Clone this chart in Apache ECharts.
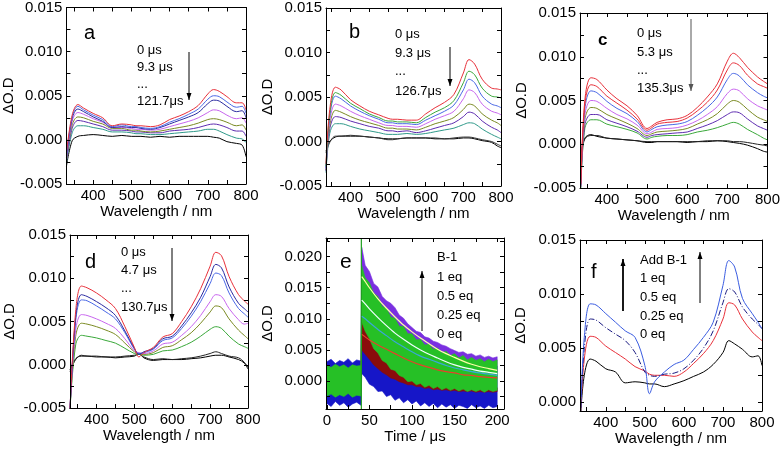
<!DOCTYPE html>
<html><head><meta charset="utf-8">
<script src="https://cdn.jsdelivr.net/npm/echarts@6/dist/echarts.min.js"></script>
<style>html,body{margin:0;padding:0;background:#fff}#c{width:783px;height:453px}</style>
</head><body><div id="c"></div>
<script>
// ---------- DATA (ΔO.D values in units of 0.001) ----------
const W_a = [330,345,360,375,400,425,450,475,500,512,525,550,575,600,625,650,675,700,715,730,750,775,790,800];
const W_b = [335,345,360,375,400,425,450,475,500,512,525,550,575,600,625,650,675,700,715,730,750,775,790,800];

// panel a : 0 µs, 9.3 µs ... 121.7 µs
const a_red    = [-1.5,2.8,4.0,3.6,3.0,2.5,1.6,1.8,1.7,1.6,1.6,1.5,1.7,2.3,2.7,3.2,3.9,5.2,5.7,5.5,4.9,4.2,4.2,3.4];
const a_blue   = [-1.8,2.6,3.8,3.4,2.8,2.3,1.5,1.7,1.5,1.5,1.4,1.3,1.5,2.0,2.4,2.9,3.5,4.6,5.0,4.9,4.3,3.7,3.8,3.0];
const a_navy   = [-2.0,2.4,3.5,3.2,2.6,2.1,1.4,1.5,1.4,1.4,1.3,1.2,1.4,1.8,2.2,2.6,3.1,4.1,4.5,4.4,3.8,3.2,3.3,2.5];
const a_violet = [-2.2,2.1,3.1,2.9,2.4,2.0,1.4,1.4,1.3,1.2,1.2,1.1,1.2,1.5,1.8,2.1,2.5,3.1,3.4,3.3,2.8,2.4,2.5,1.9];
const a_olive  = [-2.3,1.7,2.6,2.5,2.1,1.8,1.3,1.3,1.1,1.1,1.0,0.9,1.0,1.2,1.4,1.6,1.9,2.3,2.4,2.3,2.0,1.6,1.7,1.1];
const a_purple = [-2.4,1.3,2.2,2.1,1.8,1.5,1.1,1.1,1.0,0.9,0.9,0.8,0.8,1.0,1.1,1.2,1.4,1.7,1.8,1.7,1.4,1.0,1.0,0.4];
const a_teal   = [-2.6,0.8,1.6,1.6,1.4,1.2,0.9,0.9,0.8,0.7,0.7,0.6,0.6,0.7,0.8,0.9,1.0,1.2,1.2,1.0,0.6,0.2,0.1,-0.3];
const a_black  = [-3.0,-0.1,0.4,0.5,0.6,0.5,0.4,0.5,0.4,0.4,0.4,0.3,0.4,0.3,0.4,0.4,0.4,0.4,0.3,0.2,-0.2,-0.4,-0.6,-1.9];

// panel b : 0 µs, 9.3 µs ... 126.7 µs
const b_red    = [-2.5,3.6,6.1,5.8,4.7,4.0,3.4,3.0,2.6,2.5,2.5,2.4,2.4,3.1,3.8,4.4,5.3,7.7,9.2,8.7,7.0,6.0,5.9,5.8];
const b_green  = [-2.8,3.1,5.5,5.2,4.3,3.7,3.1,2.7,2.3,2.3,2.2,2.2,2.1,2.7,3.3,3.8,4.6,6.6,7.9,7.5,6.0,5.1,5.0,4.9];
const b_blue   = [-3.0,2.8,5.1,4.8,4.0,3.4,2.9,2.5,2.1,2.1,2.0,2.0,1.9,2.4,2.9,3.4,4.1,5.8,7.0,6.6,5.1,4.2,4.0,3.8];
const b_violet = [-3.1,2.3,4.2,4.0,3.4,2.9,2.5,2.1,1.8,1.8,1.7,1.7,1.6,2.0,2.5,2.9,3.4,4.8,5.8,5.5,4.2,3.4,3.2,3.0];
const b_olive  = [-3.2,1.8,3.5,3.3,2.8,2.4,2.1,1.8,1.5,1.5,1.4,1.4,1.3,1.6,2.0,2.3,2.7,3.6,4.2,4.0,3.1,2.4,2.1,1.8];
const b_purple = [-3.3,1.4,2.8,2.7,2.3,2.0,1.7,1.5,1.2,1.2,1.1,1.2,1.0,1.2,1.5,1.8,2.1,2.8,3.3,3.1,2.3,1.6,1.3,1.0];
const b_teal   = [-3.5,0.9,2.0,2.0,1.7,1.4,1.2,1.0,0.8,0.8,0.8,0.9,0.8,0.9,1.1,1.3,1.5,1.9,2.1,2.0,1.4,0.8,0.5,0.3];
const b_black  = [-1.3,-0.1,0.6,0.6,0.7,0.6,0.5,0.4,0.2,0.2,0.3,0.4,0.4,0.4,0.4,0.3,0.4,0.5,0.5,0.4,0.2,0.0,-0.3,-0.5];
const b_black2 = [-1.1,0.0,0.5,0.6,0.6,0.6,0.5,0.4,0.3,0.3,0.3,0.4,0.4,0.4,0.3,0.3,0.3,0.4,0.4,0.3,0.1,-0.1,-0.5,-0.7];

// panel c : 0 µs, 5.3 µs ... 135.3 µs
const c_red    = [-4.5,5.0,7.6,7.4,6.2,5.2,4.4,3.3,1.8,2.1,2.5,2.8,2.9,3.3,4.2,5.4,6.9,9.5,10.4,9.9,8.8,7.7,7.2,6.9];
const c_red2   = [-4.6,4.5,6.8,6.6,5.5,4.7,3.9,2.9,1.6,1.9,2.3,2.5,2.6,3.0,3.8,4.8,6.2,8.5,9.3,9.0,7.9,6.9,6.6,6.4];
const c_blue   = [-4.7,4.0,6.1,5.9,4.9,4.1,3.5,2.6,1.4,1.7,2.0,2.2,2.3,2.6,3.3,4.2,5.4,7.4,8.1,7.8,6.8,5.9,5.5,5.3];
const c_violet = [-4.8,3.3,5.0,4.9,4.1,3.4,2.9,2.2,1.2,1.4,1.7,1.8,1.9,2.2,2.7,3.4,4.3,5.8,6.3,6.1,5.2,4.4,4.1,3.9];
const c_olive  = [-4.8,2.8,4.2,4.1,3.4,2.9,2.4,1.8,1.0,1.2,1.4,1.5,1.6,1.8,2.3,2.8,3.5,4.6,5.0,4.8,4.0,3.1,2.8,2.6];
const c_purple = [-4.9,2.2,3.4,3.4,2.8,2.4,2.0,1.5,0.8,1.0,1.1,1.2,1.3,1.4,1.8,2.2,2.7,3.4,3.7,3.6,2.9,2.1,1.8,1.6];
const c_green  = [-5.2,1.8,2.8,2.8,2.3,2.0,1.7,1.3,0.6,0.8,0.9,1.0,1.0,1.1,1.4,1.6,1.9,2.3,2.5,2.3,1.7,1.1,0.7,0.5];
const c_black  = [-1.5,0.6,1.0,1.0,0.7,0.6,0.5,0.4,0.3,0.3,0.3,0.3,0.3,0.3,0.3,0.4,0.4,0.4,0.3,0.3,0.2,0.0,-0.1,-0.2];
const c_black2 = [-1.2,0.7,1.1,0.9,0.7,0.6,0.5,0.4,0.2,0.2,0.3,0.3,0.3,0.2,0.3,0.3,0.4,0.3,0.2,0.1,-0.1,-0.5,-0.8,-0.9];

// panel d : 0 µs, 4.7 µs ... 130.7 µs
const d_red    = [-5.2,6.2,9.1,8.9,8.3,7.5,6.5,4.4,2.0,0.9,1.4,2.0,3.2,3.6,5.0,6.7,8.8,11.4,13.0,12.6,10.2,8.1,7.4,7.0];
const d_navy   = [-5.2,5.5,8.1,7.9,7.3,6.6,5.7,3.9,1.9,1.2,1.5,1.9,3.0,3.3,4.5,6.0,7.8,10.2,11.6,11.2,9.0,7.1,6.5,6.1];
const d_blue   = [-5.2,5.1,7.5,7.4,6.8,6.1,5.3,3.7,1.8,1.3,1.4,1.8,2.8,3.1,4.2,5.6,7.3,9.4,10.6,10.3,8.3,6.5,5.9,5.5];
const d_violet = [-5.2,4.0,5.8,5.7,5.3,4.8,4.2,3.0,1.6,1.4,1.3,1.6,2.4,2.6,3.4,4.4,5.7,7.3,8.1,7.9,6.5,5.2,4.7,4.8];
const d_olive  = [-5.2,3.3,4.8,4.7,4.4,4.0,3.5,2.5,1.5,1.3,1.2,1.4,2.0,2.2,2.9,3.7,4.8,6.1,6.8,6.6,5.3,4.0,3.4,3.0];
const d_green  = [-5.2,2.3,3.4,3.3,3.1,2.8,2.5,1.9,1.3,1.2,1.1,1.2,1.6,1.7,2.1,2.6,3.3,4.1,4.4,4.2,3.3,2.4,2.1,1.9];
const d_black  = [-0.8,0.6,1.1,1.0,1.0,0.9,0.9,1.0,1.1,1.2,0.9,0.6,0.7,0.6,0.7,0.8,1.0,1.3,1.5,1.3,1.0,0.8,0.3,-0.3];
const d_black2 = [-0.6,0.7,1.0,1.0,0.9,0.9,0.8,0.9,1.0,1.3,0.8,0.5,0.6,0.6,0.6,0.7,0.8,1.0,1.1,1.1,0.9,0.6,0.2,-0.5];

// panel f : add B-1, 0 / 0.25 / 0.5 / 1 eq
const f_1eq    = [-1.5,6.0,9.1,9.0,8.2,7.4,6.6,6.0,3.4,0.8,1.9,2.8,3.5,3.9,4.9,6.0,7.4,10.8,13.1,12.5,9.6,8.2,7.4,6.8];
const f_05eq   = [-1.5,5.0,7.7,7.6,6.9,6.3,5.7,4.6,2.8,2.5,2.4,2.6,2.7,3.1,3.9,5.0,6.6,9.2,10.5,10.2,8.8,7.7,7.2,6.8];
const f_025eq  = [-1.5,4.0,6.1,6.0,5.2,4.6,4.0,3.3,2.9,2.6,2.5,2.5,2.4,2.8,3.6,4.5,5.7,7.7,9.2,9.0,7.7,6.5,6.0,5.7];
const f_0eq    = [-1.5,2.5,4.0,3.8,3.1,2.8,1.8,1.9,1.8,1.7,1.7,1.45,1.7,2.0,2.4,2.8,3.5,4.6,5.7,5.4,4.9,4.2,4.3,3.4];

// panel e : kinetic traces (noise envelopes) and fits
const T_e = [0,5,10,15,20,25,30,35,40,41,45,50,55,60,65,70,75,80,85,90,95,100,105,110,115,120,125,130,135,140,145,150,155,160,165,170,175,180,185,190,195,200];
const e_blueLo   = [-3.6,-4.1,-3.3,-3.9,-3.5,-4.2,-3.7,-3.4,-3.9, 1.2,0.6,-0.5,-0.9,-1.7,-1.6,-2.5,-2.2,-3.1,-2.7,-3.5,-3.0,-3.7,-3.2,-4.0,-3.5,-4.1,-3.6,-4.3,-3.7,-4.2,-3.8,-4.4,-3.9,-4.1,-4.4,-3.8,-4.3,-4.0,-4.4,-3.9,-4.3,-4.1];
const e_blueHi   = [3.1,3.5,2.8,3.3,3.0,3.6,2.9,3.4,3.2, 14.5,13.2,12.3,11.0,10.6,9.4,9.1,8.1,7.8,6.9,6.7,5.9,5.8,5.0,5.0,4.3,4.3,3.7,3.8,3.3,3.4,3.0,3.1,2.7,2.9,2.5,2.7,2.4,2.6,2.3,2.5,2.3,2.4];
const e_purpleLo = [-1.8,-2.0,-1.7,-1.9,-1.8,-1.9,-1.7,-1.8,-1.9, 10.0,9.5,9.0,8.4,7.8,7.2,6.7,6.2,5.7,5.3,4.9,4.5,4.2,3.9,3.6,3.3,3.1,2.9,2.7,2.5,2.4,2.2,2.1,2.0,1.9,1.8,1.7,1.7,1.6,1.6,1.5,1.5,1.5];
const e_purpleHi = [1.9,2.0,1.8,2.0,1.9,2.0,1.8,1.9,2.0, 21.5,18.6,17.6,15.7,15.1,13.6,12.9,12.5,11.8,10.6,10.1,9.2,8.6,8.0,7.8,7.1,6.9,6.4,6.2,5.8,5.6,5.2,4.9,4.6,4.7,4.3,4.4,4.0,4.2,3.8,4.0,3.7,3.9];
const e_redLo    = [-1.8,-1.9,-1.7,-1.8,-1.9,-1.7,-1.8,-1.9,-1.8, 5.0,4.3,3.5,2.6,2.0,1.4,1.0,0.5,0.3,-0.1,-0.3,-0.6,-0.6,-0.9,-0.9,-1.2,-1.1,-1.4,-1.3,-1.5,-1.4,-1.6,-1.5,-1.7,-1.6,-1.7,-1.6,-1.8,-1.7,-1.8,-1.7,-1.8,-1.7];
const e_redHi    = [1.8,1.9,1.7,1.8,1.9,1.7,1.8,1.9,1.8, 10.5,9.0,7.8,6.2,5.4,4.2,3.8,2.8,2.5,1.6,1.2,0.5,0.5,-0.1,0.1,-0.5,-0.2,-0.7,-0.4,-0.9,-0.6,-1.0,-0.7,-1.1,-0.8,-1.2,-0.9,-1.2,-1.0,-1.3,-1.0,-1.3,-1.1];
const e_greenLo  = [-2.4,-2.1,-2.6,-2.2,-2.5,-2.0,-2.6,-2.3,-2.4, 9.5,8.0,6.8,5.2,4.5,3.3,2.9,1.9,1.7,0.9,0.6,-0.1,0.0,-0.6,-0.4,-1.0,-0.7,-1.2,-0.9,-1.4,-1.1,-1.5,-1.2,-1.6,-1.3,-1.7,-1.4,-1.7,-1.4,-1.8,-1.4,-1.7,-1.5];
const e_greenHi  = [2.5,2.2,2.7,2.3,2.6,2.1,2.6,2.4,2.5, 18.5,16.6,15.8,14.1,13.6,12.0,11.7,10.3,10.1,8.8,8.8,7.6,7.6,6.6,6.7,5.8,5.9,5.1,5.3,4.5,4.8,4.1,4.4,3.7,4.1,3.4,3.8,3.3,3.6,3.1,3.5,3.1,3.4];
const e_spikeT   = [40.5,40.5];
const e_spikeV   = [-4.5,23];
const T_fit = [41,45,50,60,70,80,90,100,110,120,130,140,150,160,170,180,190,200];
const e_fit1eq   = [16.8,16.0,15.0,13.2,11.7,10.3,9.0,7.9,6.9,6.0,5.1,4.4,3.8,3.2,2.7,2.3,2.0,1.7];
const e_fit05eq  = [13.0,12.4,11.6,10.2,8.9,7.7,6.7,5.8,5.0,4.3,3.7,3.1,2.6,2.2,1.9,1.6,1.4,1.2];
const e_fit025eq = [10.4,10.0,9.4,8.3,7.3,6.3,5.5,4.7,4.0,3.5,3.0,2.5,2.1,1.8,1.5,1.3,1.1,0.9];
const e_fit0eq   = [7.5,7.1,6.6,5.8,5.1,4.4,3.7,3.1,2.6,2.2,1.8,1.5,1.3,1.0,0.9,0.7,0.6,0.5];

// ticks
const wlTicks  = [350,400,450,500,550,600,650,700,750,800];
const wlLabels = [400,500,600,700,800];
const tTicks   = [0,25,50,75,100,125,150,175,200];
const tLabels  = [0,50,100,150,200];
const odTicks  = [-5,-2.5,0,2.5,5,7.5,10,12.5,15];
const odLabels = [-5,0,5,10,15];
const eTicks   = [-2.5,0,2.5,5,7.5,10,12.5,15,17.5,20,22.5];
const eLabels  = [0,5,10,15,20];
const fTicks   = [0,2.5,5,7.5,10,12.5,15];
const fLabels  = [0,5,10,15];

// ---------- CHART ----------
const FONT = '"Liberation Sans", Arial, Helvetica, sans-serif';
const C = {red:'#e8303a', blue:'#4a68e6', navy:'#2a2aa0', violet:'#c866ee', olive:'#7a8a22', purple:'#5e2cb0', teal:'#2f9a8a', green:'#3aa83a', black:'#000'};

const panels = [
  {grid:{left:63, top:7, width:183, height:177},  x:[330,800], y:[-5,15],   xt:wlTicks, xl:wlLabels, yt:odTicks, yl:odLabels, xname:'Wavelength / nm'},
  {grid:{left:326,top:8, width:175, height:178},  x:[335,800], y:[-5,15],   xt:wlTicks, xl:wlLabels, yt:odTicks, yl:odLabels, xname:'Wavelength / nm'},
  {grid:{left:580,top:13,width:189, height:175},  x:[333,800], y:[-5,15],   xt:wlTicks, xl:wlLabels, yt:odTicks, yl:odLabels, xname:'Wavelength / nm'},
  {grid:{left:70, top:235,width:178,height:173},  x:[330,800], y:[-5,15],   xt:wlTicks, xl:wlLabels, yt:odTicks, yl:odLabels, xname:'Wavelength / nm'},
  {grid:{left:326,top:238,width:178,height:171},  x:[-1,208],  y:[-4.5,23], xt:tTicks,  xl:tLabels,  yt:eTicks,  yl:eLabels,  xname:'Time / μs'},
  {grid:{left:580,top:240,width:182,height:171},  x:[334,800], y:[-0.8,15], xt:wlTicks, xl:wlLabels, yt:fTicks,  yl:fLabels,  xname:'Wavelength / nm'}
];
const nameGaps = [50,49,48,53,51,52];

const grids=[], xAxes=[], yAxes=[];
panels.forEach((p,i)=>{
  grids.push(Object.assign({containLabel:false}, p.grid));
  const axLine = {show:true, onZero:false, lineStyle:{color:'#000', width:1}};
  const xc = {type:'value', gridIndex:i, min:p.x[0], max:p.x[1], splitLine:{show:false}, axisLine:axLine, z:10,
    axisTick:{show:true, inside:true, length:4, customValues:p.xt, lineStyle:{color:'#000'}}};
  xAxes.push(Object.assign({}, xc, {position:'bottom',
    axisLabel:{customValues:p.xl, color:'#000', fontSize:15, fontFamily:FONT, margin:4},
    name:p.xname, nameLocation:'middle', nameGap:19, nameTextStyle:{color:'#000', fontSize:15, fontFamily:FONT}}));
  xAxes.push(Object.assign({}, xc, {position:'top', axisLabel:{show:false}}));
  const yc = {type:'value', gridIndex:i, min:p.y[0], max:p.y[1], splitLine:{show:false}, axisLine:axLine, z:10,
    axisTick:{show:true, inside:true, length:4, customValues:p.yt, lineStyle:{color:'#000'}}};
  yAxes.push(Object.assign({}, yc, {position:'left',
    axisLabel:{customValues:p.yl, formatter:v=>(v/1000).toFixed(3), color:'#000', fontSize:15, fontFamily:FONT, margin:4},
    name:'ΔO.D', nameLocation:'middle', nameGap:nameGaps[i], nameTextStyle:{color:'#000', fontSize:15, fontFamily:FONT}}));
  yAxes.push(Object.assign({}, yc, {position:'right', axisLabel:{show:false}}));
});

const series=[];
function addSpec(pi, W, list){
  list.forEach(([vals,color,dash,w])=>{
    series.push({type:'line', xAxisIndex:2*pi, yAxisIndex:2*pi, data:W.map((x,k)=>[x,vals[k]]),
      symbol:'none', smooth:0.35, silent:true, clip:true,
      lineStyle:{color, width:w||1, type:dash||'solid'}});
  });
}
addSpec(0, W_a, [[a_black,C.black],[a_teal,C.teal],[a_purple,C.purple],[a_olive,C.olive],[a_violet,C.violet],[a_navy,C.navy],[a_blue,C.blue],[a_red,C.red]]);
addSpec(1, W_b, [[b_black2,C.black],[b_black,'#333'],[b_teal,C.teal],[b_purple,C.purple],[b_olive,C.olive],[b_violet,C.violet],[b_blue,C.blue],[b_green,C.green],[b_red,C.red]]);
addSpec(2, W_b, [[c_black2,C.black],[c_black,'#222'],[c_green,C.green],[c_purple,C.purple],[c_olive,C.olive],[c_violet,C.violet],[c_blue,C.blue],[c_red2,C.red],[c_red,C.red]]);
addSpec(3, W_a, [[d_black2,C.black],[d_black,'#222'],[d_green,C.green],[d_olive,C.olive],[d_violet,C.violet],[d_blue,C.blue],[d_navy,C.navy],[d_red,C.red]]);
addSpec(5, W_b, [[f_0eq,C.black],[f_025eq,C.red],[f_05eq,'#1a1a80',[6,2,1,2]],[f_1eq,'#3a5ce0']]);

// panel e bands drawn as polygons through the axis scales
function addBand(lo, hi, color){
  series.push({type:'custom', xAxisIndex:8, yAxisIndex:8, silent:true, clip:true,
    data:T_e.map((t,k)=>[t, lo[k], hi[k]]),
    encode:{x:0, y:[1,2]},
    renderItem:(params, api)=>{
      if(params.dataIndex!==0) return;
      const pts=[];
      for(let k=0;k<T_e.length;k++) pts.push(api.coord([T_e[k], hi[k]]));
      for(let k=T_e.length-1;k>=0;k--) pts.push(api.coord([T_e[k], lo[k]]));
      return {type:'polygon', shape:{points:pts}, style:{fill:color, stroke:color, lineWidth:0.6}};
    }});
}
addBand(e_blueLo, e_blueHi, '#1616c8');
addBand(e_purpleLo, e_purpleHi, '#7a30e0');
addBand(e_redLo, e_redHi, '#8a0c0c');
addBand(e_greenLo, e_greenHi, '#26c026');
series.push({type:'line', xAxisIndex:8, yAxisIndex:8, symbol:'none', silent:true,
  data:e_spikeT.map((t,k)=>[t,e_spikeV[k]]), lineStyle:{color:'#1e9e1e', width:1.2}});
[[e_fit0eq,'#e8402a'],[e_fit025eq,'#3aa6d8'],[e_fit05eq,'#f0ffff'],[e_fit1eq,'#ffffa8']].forEach(([v,c])=>{
  series.push({type:'line', xAxisIndex:8, yAxisIndex:8, symbol:'none', silent:true, smooth:0.3,
    data:T_fit.map((t,k)=>[t,v[k]]), lineStyle:{color:c, width:1.2}});
});

// annotations
const g=[];
function txt(x,y,s,font){ g.push({type:'text', x, y, z:100, style:{text:s, font:font||('13px '+FONT), fill:'#000', verticalAlign:'middle'}}); }
function arrow(x,y1,y2,w,color){
  color=color||'#000'; w=w||1;
  g.push({type:'line', z:100, shape:{x1:x,y1:y1,x2:x,y2:y2}, style:{stroke:color, lineWidth:w}});
  const d = y2>y1 ? -1 : 1;
  g.push({type:'polygon', z:100, shape:{points:[[x,y2],[x-2.5,y2+d*7],[x+2.5,y2+d*7]]}, style:{fill:color}});
}
txt(84,33,'a','20px '+FONT);
['0 μs','9.3 μs','...','121.7μs'].forEach((s,k)=>txt(137,[50,67,84,101][k],s));
arrow(189,52,100);
txt(349,32,'b','20px '+FONT);
['0 μs','9.3 μs','...','126.7μs'].forEach((s,k)=>txt(395,[34,53,71,91][k],s));
arrow(450,47,86);
txt(598,40,'c','bold 17px '+FONT);
['0 μs','5.3 μs','...','135.3μs'].forEach((s,k)=>txt(637,[33,52,70,88][k],s));
arrow(691,19,91,1,'#555');
txt(85,262,'d','20px '+FONT);
['0 μs','4.7 μs','...','130.7μs'].forEach((s,k)=>txt(121,[252,270,288,307][k],s));
arrow(172,248,321);
txt(340,262,'e','21px '+FONT);
['B-1','1 eq','0.5 eq','0.25 eq','0 eq'].forEach((s,k)=>txt(437,[257,277,296,315,334][k],s));
arrow(422,331,271);
txt(591,272,'f','20px '+FONT);
['Add B-1','1 eq','0.5 eq','0.25 eq','0 eq'].forEach((s,k)=>txt(640,[260,278,297,316,334][k],s));
arrow(623,311,259,1.8);
arrow(700,303,252);

const chart = echarts.init(document.getElementById('c'), null, {renderer:'canvas'});
chart.setOption({animation:false, backgroundColor:'#fff', grid:grids, xAxis:xAxes, yAxis:yAxes, series, graphic:g});
</script></body></html>
